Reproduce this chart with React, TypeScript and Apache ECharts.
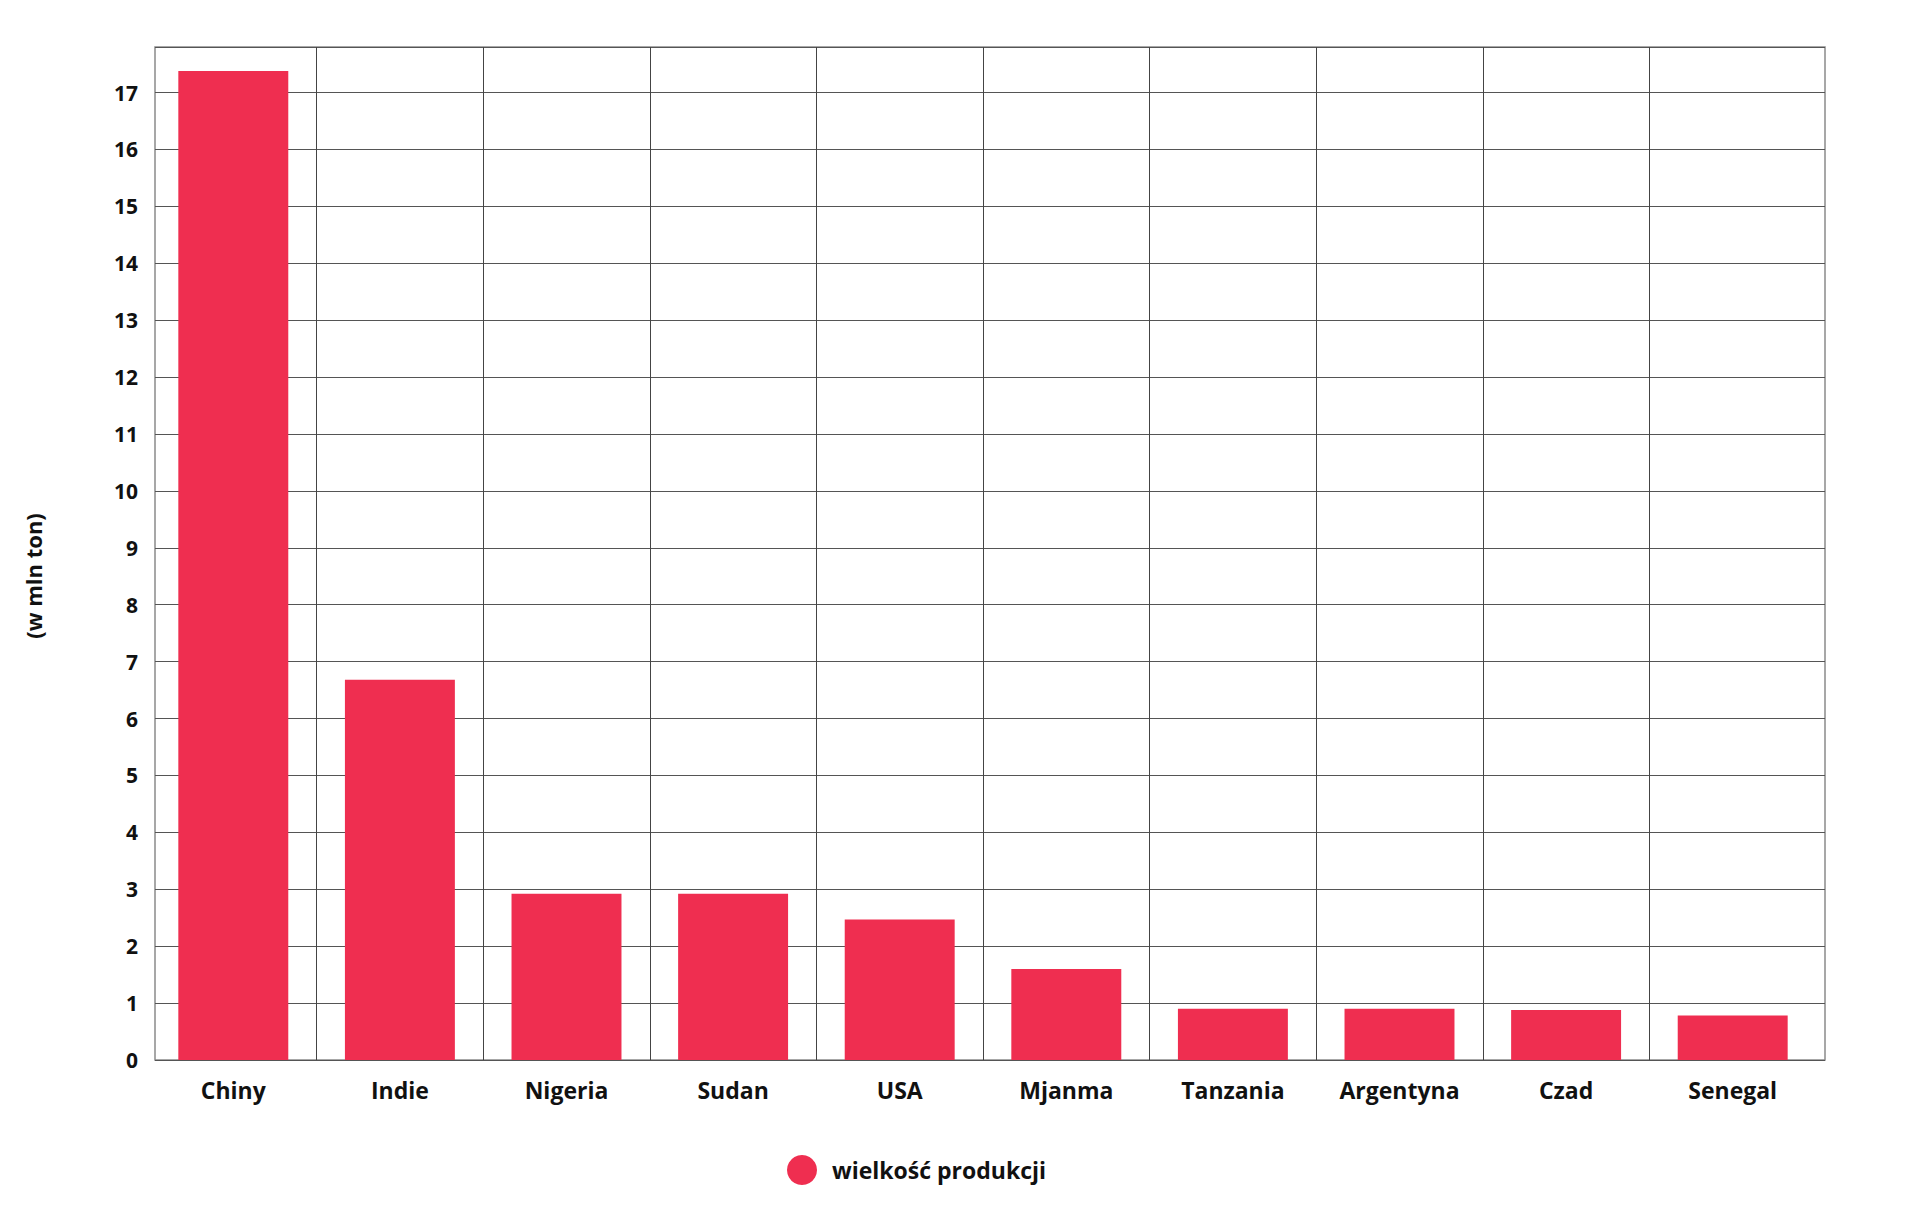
import React, { useEffect, useRef } from "react";
import * as echarts from "echarts";

const countries = [
  "Chiny", "Indie", "Nigeria", "Sudan", "USA",
  "Mjanma", "Tanzania", "Argentyna", "Czad", "Senegal",
];
const production = [17.38, 6.68, 2.92, 2.92, 2.47, 1.6, 0.9, 0.9, 0.88, 0.78];
const seriesName = "wielkość produkcji";
const yAxisName = "(w mln ton)";

const font = "'Open Sans', 'Noto Sans', sans-serif";
const Y_MAX = 17.8;

const App: React.FC = () => {
  const chartRef = useRef<HTMLDivElement | null>(null);

  useEffect(() => {
    if (!chartRef.current) return;
    const chart = echarts.init(chartRef.current, undefined, { renderer: "svg" });

    chart.setOption({
      animation: false,
      backgroundColor: "#ffffff",
      // grid 0 is the framed box with the value scale, grid 1 holds the bars
      // (the category bands sit a few px left of the frame in the original)
      grid: [
        {
          left: 155, right: 95, top: 47, bottom: 167,
          show: true, borderColor: "#8a8a8a", borderWidth: 1.5,
        },
        { left: 150, right: 104, top: 47, bottom: 167 },
      ],
      legend: {
        data: [{ name: seriesName, icon: "circle" }],
        left: 782,
        top: 1150,
        itemWidth: 30,
        itemHeight: 30,
        textStyle: {
          fontFamily: font,
          fontWeight: "bold",
          fontSize: 23,
          color: "#111",
          padding: [0, 0, 0, 10],
        },
      },
      graphic: [
        {
          type: "text",
          x: 33,
          y: 576,
          rotation: Math.PI / 2,
          style: {
            text: yAxisName,
            fontFamily: font,
            fontWeight: "bold",
            fontSize: 22,
            fill: "#111",
            textAlign: "center",
            textVerticalAlign: "middle",
          },
        },
      ],
      xAxis: [
        {
          gridIndex: 0,
          type: "category",
          data: countries,
          axisLine: { show: false },
          axisTick: { show: false },
          axisLabel: { show: false },
          splitLine: { show: false },
        },
        {
          gridIndex: 1,
          type: "category",
          data: countries,
          axisTick: { show: false },
          axisLine: { show: false },
          axisLabel: {
            margin: 18,
            fontFamily: font,
            fontWeight: "bold",
            fontSize: 23,
            color: "#111",
            interval: 0,
          },
          splitLine: {
            show: true,
            interval: 0,
            showMinLine: false,
            showMaxLine: false,
            lineStyle: { color: "#444", width: 1 },
          },
        },
      ],
      yAxis: [
        {
          gridIndex: 0,
          type: "value",
          min: 0,
          max: Y_MAX,
          interval: 1,
          axisLine: { show: false },
          axisTick: { show: false },
          axisLabel: {
            margin: 17,
            showMaxLabel: false,
            fontFamily: font,
            fontWeight: "bold",
            fontSize: 21,
            color: "#111",
            padding: [0, 0, 7, 0],
          },
          splitLine: { lineStyle: { color: "#555", width: 1 } },
        },
        {
          gridIndex: 1,
          type: "value",
          min: 0,
          max: Y_MAX,
          interval: 1,
          axisLine: { show: false },
          axisTick: { show: false },
          axisLabel: { show: false },
          splitLine: { show: false },
        },
      ],
      series: [
        {
          name: seriesName,
          type: "bar",
          xAxisIndex: 1,
          yAxisIndex: 1,
          data: production,
          barWidth: "66%",
          itemStyle: { color: "#EF2E50" },
        },
      ],
    });

    const handleResize = () => chart.resize();
    window.addEventListener("resize", handleResize);
    return () => {
      window.removeEventListener("resize", handleResize);
      chart.dispose();
    };
  }, []);

  return (
    <div
      ref={chartRef}
      style={{
        position: "fixed",
        left: 0,
        top: 0,
        width: "1920px",
        height: "1227px",
        background: "#fff",
      }}
    />
  );
};

export default App;
